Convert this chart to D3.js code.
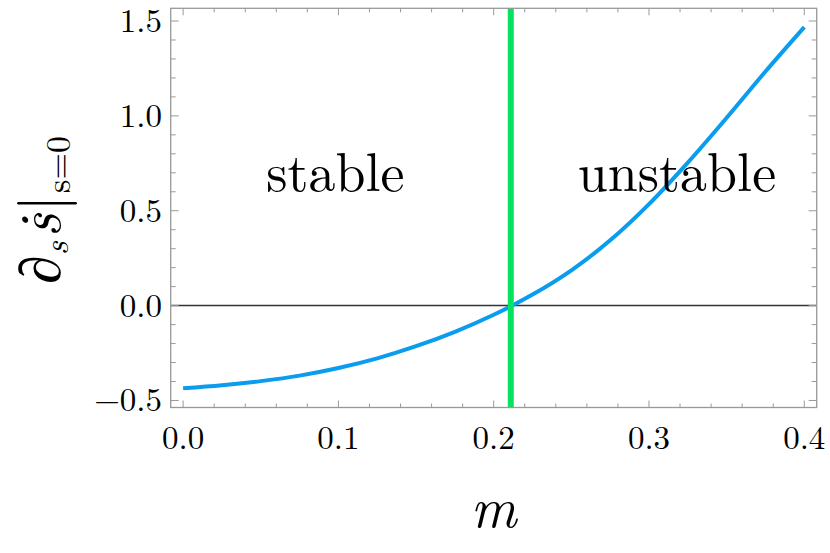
<!DOCTYPE html>
<html lang="en">
<head>
    <meta charset="UTF-8">
    <title>Stability of s = 0</title>
    <script src="https://d3js.org/d3.v7.min.js"></script>
    <style>
        body {
            margin: 0;
            background-color: #ffffff;
        }
        svg {
            display: block;
        }
        text {
            font-family: "Latin Modern Roman", "CMU Serif", "Liberation Serif", serif;
            fill: #000;
        }
    </style>
</head>
<body>
    <div id="chart"></div>

    <script>
        // curve: m against d_s sdot at s = 0
        const mValues = [0, 0.025, 0.05, 0.075, 0.1, 0.125, 0.15, 0.175, 0.2, 0.225, 0.25, 0.275, 0.3, 0.325, 0.35, 0.375, 0.4];
        const slopeValues = [-0.436, -0.420, -0.398, -0.369, -0.329, -0.278, -0.214, -0.138, -0.048, 0.058, 0.186, 0.344, 0.535, 0.754, 0.990, 1.234, 1.468];

        // critical mass, where the slope changes sign
        const mCritical = 0.211;

        const xTicks = [0, 0.1, 0.2, 0.3, 0.4];
        const xTickLabels = ["0.0", "0.1", "0.2", "0.3", "0.4"];
        const yTicks = [-0.5, 0, 0.5, 1.0, 1.5];
        const yTickLabels = ["\u22120.5", "0.0", "0.5", "1.0", "1.5"];

        const regionLabels = ["stable", "unstable"];
        const regionLabelX = [0.098, 0.318];
        const regionLabelY = [0.604, 0.604];

        const width = 830;
        const height = 553;
        const frame = { left: 170.7, right: 816.7, top: 8.3, bottom: 407.5 };

        const x = d3.scaleLinear().domain([-0.008, 0.408]).range([frame.left, frame.right]);
        const y = d3.scaleLinear().domain([-0.537, 1.567]).range([frame.bottom, frame.top]);

        const svg = d3.select("#chart")
            .append("svg")
            .attr("width", width)
            .attr("height", height);

        // zero line
        svg.append("line")
            .attr("x1", frame.left).attr("x2", frame.right)
            .attr("y1", y(0)).attr("y2", y(0))
            .attr("stroke", "#333").attr("stroke-width", 1.5);

        // curve
        const line = d3.line()
            .x((d, i) => x(mValues[i]))
            .y(d => y(d))
            .curve(d3.curveMonotoneX);

        svg.append("path")
            .datum(slopeValues)
            .attr("fill", "none")
            .attr("stroke", "#0a9cee")
            .attr("stroke-width", 4)
            .attr("d", line);

        // critical line
        svg.append("line")
            .attr("x1", x(mCritical)).attr("x2", x(mCritical))
            .attr("y1", frame.top).attr("y2", frame.bottom)
            .attr("stroke", "#05e35e").attr("stroke-width", 6);

        // frame with ticks on all four sides
        const tickColor = "#999";
        const frameG = svg.append("g");
        const xMinor = d3.range(0, 0.4001, 0.02);
        const yMinor = d3.range(-0.5, 1.5001, 0.1);
        const isMajor = (v, step) => Math.abs(v / step - Math.round(v / step)) < 1e-6;

        xMinor.forEach(v => {
            const len = isMajor(v, 0.1) ? 7 : 4;
            frameG.append("line")
                .attr("x1", x(v)).attr("x2", x(v))
                .attr("y1", frame.bottom).attr("y2", frame.bottom - len)
                .attr("stroke", tickColor).attr("stroke-width", 1);
            frameG.append("line")
                .attr("x1", x(v)).attr("x2", x(v))
                .attr("y1", frame.top).attr("y2", frame.top + len)
                .attr("stroke", tickColor).attr("stroke-width", 1);
        });
        yMinor.forEach(v => {
            const len = isMajor(v, 0.5) ? 8 : 5;
            frameG.append("line")
                .attr("x1", frame.left).attr("x2", frame.left + len)
                .attr("y1", y(v)).attr("y2", y(v))
                .attr("stroke", tickColor).attr("stroke-width", 1);
            frameG.append("line")
                .attr("x1", frame.right).attr("x2", frame.right - len)
                .attr("y1", y(v)).attr("y2", y(v))
                .attr("stroke", tickColor).attr("stroke-width", 1);
        });

        frameG.append("rect")
            .attr("x", frame.left).attr("y", frame.top)
            .attr("width", frame.right - frame.left)
            .attr("height", frame.bottom - frame.top)
            .attr("fill", "none")
            .attr("stroke", tickColor)
            .attr("stroke-width", 1.3);

        // tick labels
        svg.append("g")
            .selectAll("text")
            .data(xTicks)
            .enter()
            .append("text")
            .attr("x", d => x(d))
            .attr("y", 449)
            .attr("text-anchor", "middle")
            .attr("font-size", 33)
            .text((d, i) => xTickLabels[i]);

        svg.append("g")
            .selectAll("text")
            .data(yTicks)
            .enter()
            .append("text")
            .attr("x", 162)
            .attr("y", d => y(d) + 11)
            .attr("text-anchor", "end")
            .attr("font-size", 33)
            .text((d, i) => yTickLabels[i]);

        // region labels
        svg.append("g")
            .selectAll("text")
            .data(regionLabels)
            .enter()
            .append("text")
            .attr("x", (d, i) => x(regionLabelX[i]))
            .attr("y", (d, i) => y(regionLabelY[i]))
            .attr("text-anchor", "middle")
            .attr("font-size", 54)
            .text(d => d);

        // axis titles
        svg.append("text")
            .attr("x", x(0.2))
            .attr("y", 527)
            .attr("text-anchor", "middle")
            .attr("font-size", 56)
            .attr("font-style", "italic")
            .text("m");

        const yLabel = svg.append("text")
            .attr("transform", "translate(60,210) rotate(-90)")
            .attr("text-anchor", "middle")
            .attr("font-size", 58)
            .attr("font-style", "italic");
        yLabel.append("tspan").text("\u2202");
        yLabel.append("tspan").attr("font-size", 34).attr("dy", 8).text("s");
        yLabel.append("tspan").attr("dy", -8).attr("dx", 4).text("\u1E61");
        yLabel.append("tspan").attr("font-style", "normal").attr("font-size", 60).attr("dy", 2).attr("dx", 2).text("|");
        yLabel.append("tspan").attr("font-style", "normal").attr("font-size", 34).attr("dy", 8).attr("dx", 2).text("s=0");
    </script>
</body>
</html>
